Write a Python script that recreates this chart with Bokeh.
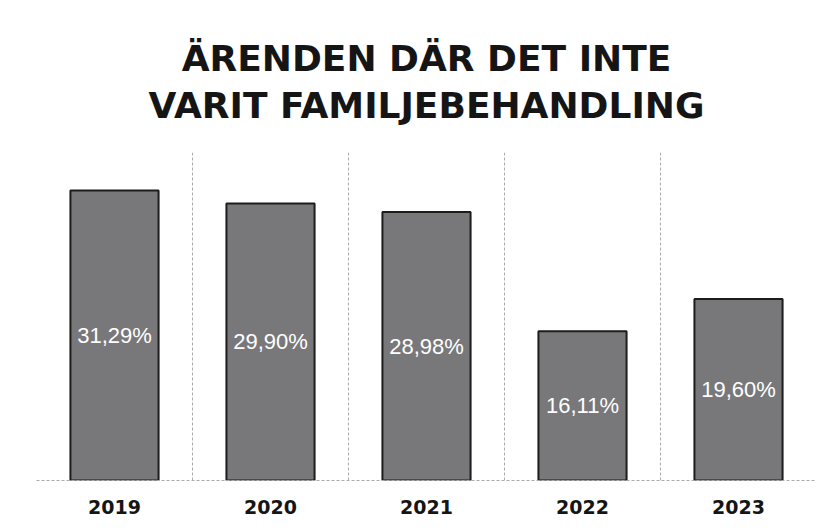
from bokeh.plotting import figure
from bokeh.models import Range1d, FactorRange, FixedTicker, Title, ColumnDataSource
from bokeh.core.properties import value
from bokeh.embed import file_html
from bokeh.resources import INLINE

years = ["2019", "2020", "2021", "2022", "2023"]
values = [31.29, 29.90, 28.98, 16.11, 19.60]
labels = ["31,29%", "29,90%", "28,98%", "16,11%", "19,60%"]
title_line1 = "ÄRENDEN DÄR DET INTE"
title_line2 = "VARIT FAMILJEBEHANDLING"

src = ColumnDataSource(dict(
    x=years, top=values, mid=[v / 2 for v in values], lab=labels,
))

p = figure(
    x_range=FactorRange(*years), y_range=Range1d(0, 35.4),
    width=827, height=520, output_backend="svg", toolbar_location=None,
    min_border_left=36, min_border_right=11, min_border_bottom=40, min_border_top=152,
)

t2 = Title(text=title_line2, align="center", text_font="DejaVu Sans",
           text_font_style="bold", text_font_size="36px", text_color="#151515",
           standoff=53)
t1 = Title(text=title_line1, align="center", text_font="DejaVu Sans",
           text_font_style="bold", text_font_size="36px", text_color="#151515",
           standoff=-44)
p.add_layout(t2, "above")
p.add_layout(t1, "above")

p.vbar(x="x", top="top", width=0.565, source=src, fill_color="#78787b",
       line_color="#1c1c1c", line_width=2)

p.text(x="x", y="mid", text="lab", source=src, text_color="white",
       text_font=value("Liberation Sans"),
       text_font_size="22px", text_align="center", text_baseline="middle")

p.yaxis.visible = False
p.ygrid.visible = False
p.xgrid.ticker = FixedTicker(ticks=[0, 1, 2, 3, 4, 5])
p.xgrid.grid_line_color = "#aaaaaa"
p.xgrid.grid_line_dash = "3 2"
p.xgrid.grid_line_width = 1

p.xaxis.axis_line_color = "#aaaaaa"
p.xaxis.axis_line_dash = "3 2"
p.xaxis.major_tick_line_color = None
p.xaxis.minor_tick_line_color = None
p.xaxis.major_label_standoff = 13
p.xaxis.major_label_text_font = "DejaVu Sans"
p.xaxis.major_label_text_font_style = "bold"
p.xaxis.major_label_text_font_size = "19px"
p.xaxis.major_label_text_color = "#151515"

p.outline_line_color = None
p.background_fill_color = "white"
p.border_fill_color = "white"

open("out.html", "w").write(file_html(p, INLINE))
